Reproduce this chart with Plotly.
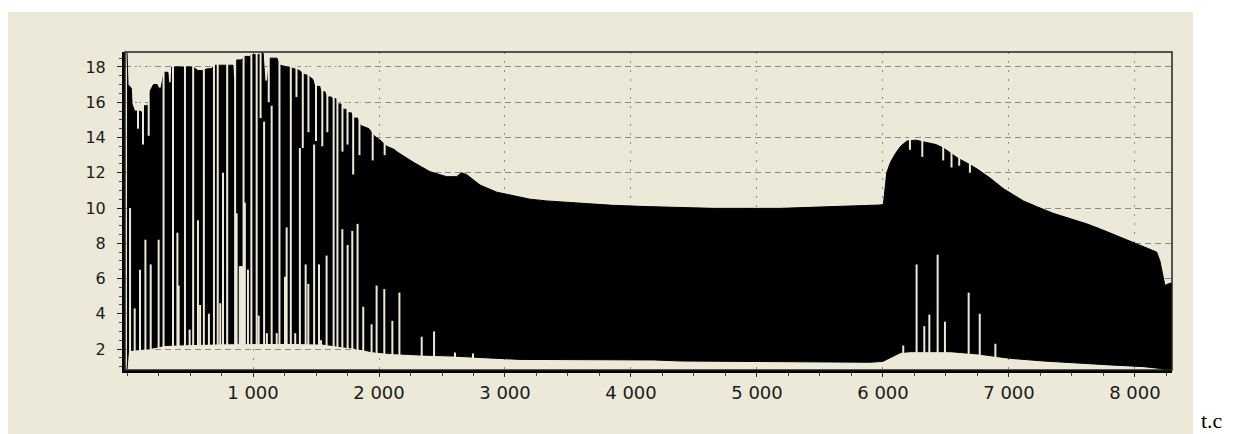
import plotly.graph_objects as go

# ---------------- data ----------------
# upper envelope of the black (oscillation maxima)
upper_x = [0, 8, 34, 40, 60, 100, 127, 135, 167, 180, 210, 240, 250, 270, 293, 325, 330, 350,
           355, 445, 484, 524, 563, 603, 638, 667, 696, 775, 802, 841, 845, 866, 870, 907, 933,
           973, 987, 1050, 1060, 1080, 1095, 1115, 1130, 1190, 1215, 1280, 1330, 1370, 1400,
           1440, 1475, 1490, 1530, 1540, 1570, 1590, 1620, 1635, 1660, 1675, 1700, 1715, 1740,
           1755, 1780, 1800, 1830, 1850, 1880, 1920, 1960, 2008, 2061, 2127, 2140, 2272, 2405,
           2537, 2616, 2655, 2695, 2802, 2934, 3066, 3198, 3331, 3595, 3860, 4127, 4389, 4653,
           5183, 5447, 5844, 5976, 6003, 6016, 6030, 6060, 6100, 6140, 6190, 6260, 6330, 6420,
           6480, 6540, 6600, 6680, 6750, 6850, 6955, 7035, 7115, 7220, 7350,
           7484, 7617, 7749, 7880, 8013, 8119, 8172, 8198, 8225, 8238, 8265, 8294]
upper_y = [18.8, 17.0, 16.8, 15.9, 15.5, 15.5, 15.4, 15.8, 15.8, 16.6, 17.0, 17.0, 16.8, 16.8,
           17.7, 17.7, 17.1, 17.1, 18.0, 18.0, 18.0, 18.0, 17.8, 17.8, 17.9, 17.9, 18.1, 18.1,
           18.1, 18.1, 17.4, 17.4, 18.4, 18.4, 18.6, 18.6, 18.7, 18.7, 18.8, 18.8, 17.2, 17.2,
           18.5, 18.5, 18.1, 18.0, 17.9, 17.8, 17.6, 17.5, 17.3, 16.9, 16.9, 16.6, 16.6, 16.3,
           16.3, 16.2, 16.2, 15.9, 15.9, 15.6, 15.6, 15.4, 15.4, 15.1, 15.1, 14.7, 14.6, 14.5,
           14.1, 13.86, 13.5, 13.3, 13.2, 12.6, 12.06, 11.78, 11.78, 12.0, 11.9, 11.3, 10.9,
           10.68, 10.5, 10.4, 10.26, 10.15, 10.08, 10.04, 9.98, 9.98, 10.04, 10.1, 10.17, 10.2,
           11.0, 12.0, 12.6, 13.1, 13.5, 13.8, 13.85, 13.75, 13.6,
           13.4, 13.1, 12.8, 12.5, 12.2, 11.7, 11.1, 10.75, 10.4, 10.08, 9.7, 9.4, 9.1, 8.74,
           8.36, 8.0, 7.7, 7.5, 7.0, 6.1, 5.6, 5.7, 5.75]

# lower envelope of the black (oscillation minima)
lower_x = [0, 12, 100, 200, 300, 500, 800, 1000, 1300, 1550, 1700, 1810, 1940, 2075, 2170,
           2325, 2590, 2850, 3120, 3380, 4180, 4400, 4970, 5500, 5900, 6000, 6060, 6140, 6217,
           6535, 6750, 7010, 7275, 7540, 7800, 8070, 8200, 8240, 8294]
lower_y = [0.85, 1.9, 1.95, 2.05, 2.2, 2.25, 2.3, 2.32, 2.32, 2.28, 2.13, 2.04, 1.85, 1.75,
           1.72, 1.66, 1.6, 1.5, 1.41, 1.38, 1.38, 1.32, 1.28, 1.28, 1.25, 1.3, 1.5, 1.8, 1.85,
           1.85, 1.72, 1.47, 1.32, 1.19, 1.1, 1.0, 0.9, 0.81, 0.81]

# light gaps in the oscillation (x, bottom, top)
gap_x = [290, 365, 460, 525, 610, 690, 720, 795, 858, 925, 987, 1029, 1210, 1300, 1640, 1670,
         87, 127, 172, 1060, 1125, 1345, 1395, 1440, 1500, 1550, 1590, 1710, 1750, 1795, 1845,
         1950, 2045,
         24, 61, 103, 146, 188, 251, 400, 410, 497, 563, 580, 650, 740, 762, 870, 895, 905, 915,
         935, 960, 1045, 1088, 1110, 1148, 1188, 1254, 1267, 1335, 1372, 1418, 1439, 1485, 1524,
         1540, 1584, 1709, 1751, 1788, 1830, 1875, 1941, 1981, 2042, 2106, 2162, 2339, 2437,
         2603, 2746,
         6161, 6267, 6328, 6368, 6434, 6492, 6680, 6768, 6892,
         6214, 6312, 6478, 6544, 6605, 6690]
gap_lo = [2.1, 2.1, 2.15, 2.15, 2.15, 2.15, 2.2, 2.2, 2.2, 2.2, 2.2, 2.2, 2.2, 2.2, 2.1, 2.1,
          14.5, 13.6, 14.1, 15.1, 16.0, 16.3, 13.4, 14.3, 13.8, 13.5, 14.3, 13.2, 13.6, 11.9,
          13.0, 12.7, 13.0,
          1.8, 1.85, 1.9, 1.9, 1.95, 2.0, 2.1, 2.1, 2.15, 2.15, 2.15, 2.15, 2.2, 2.2, 2.2, 2.2,
          2.2, 2.2, 2.2, 2.2, 2.2, 2.2, 2.2, 2.2, 2.2, 2.2, 2.2, 2.2, 2.2, 2.2, 2.2, 2.2, 2.2,
          2.2, 2.15, 2.05, 2.0, 1.95, 1.9, 1.85, 1.75, 1.7, 1.65, 1.65, 1.62, 1.56, 1.53, 1.45,
          1.42,
          1.7, 1.75, 1.75, 1.75, 1.75, 1.75, 1.65, 1.6, 1.5,
          13.3, 12.9, 12.7, 12.3, 12.4, 12.0]
gap_hi = [19.0] * 16 + [19.0] * 17 + [
          10.0, 4.3, 6.5, 8.2, 6.8, 8.2, 8.6, 5.6, 3.1, 9.3, 4.5, 4.0, 4.6, 12.0, 9.7, 6.7, 6.7,
          6.7, 10.3, 6.5, 3.9, 14.9, 2.9, 15.8, 2.9, 6.1, 8.9, 2.9, 13.4, 6.8, 5.7, 13.6, 6.8,
          2.5, 7.3, 8.8, 7.9, 8.7, 9.1, 4.4, 3.4, 5.6, 5.4, 3.6, 5.2, 2.7, 3.0, 1.8, 1.75,
          2.2, 6.8, 3.3, 3.95, 7.35, 3.55, 5.2, 4.0, 2.3] + [19.0] * 6

x_tick_vals = [1000, 2000, 3000, 4000, 5000, 6000, 7000, 8000]
x_tick_text = ["1 000", "2 000", "3 000", "4 000", "5 000", "6 000", "7 000", "8 000"]
y_tick_vals = [2, 4, 6, 8, 10, 12, 14, 16, 18]
y_tick_text = ["2", "4", "6", "8", "10", "12", "14", "16", "18"]

# ---------------- figure ----------------
PANEL = "#ECE9D8"
OFF = 8                      # page body margin of the html page
W, H = 1234 - OFF, 434 - OFF
L, R, T, B = 125 - OFF, 62, 52 - OFF, 64
pw, ph = W - L - R, H - T - B


def px2paper_x(px):          # page pixel -> paper coordinate
    return (px - OFF - L) / pw


def py2paper_y(py):
    return (H - B - (py - OFF)) / ph


fig = go.Figure()

poly_x = upper_x + lower_x[::-1]
poly_y = upper_y + lower_y[::-1]
fig.add_trace(go.Scatter(x=poly_x, y=poly_y, mode="lines", fill="toself",
                         fillcolor="black", line=dict(color="black", width=1),
                         hoverinfo="skip", showlegend=False))

sx, sy = [], []
for xv, lo, hi in zip(gap_x, gap_lo, gap_hi):
    sx += [xv, xv, None]
    sy += [lo, hi, None]
fig.add_trace(go.Scatter(x=sx, y=sy, mode="lines",
                         line=dict(color=PANEL, width=2),
                         hoverinfo="skip", showlegend=False))

fig.update_xaxes(range=[-16, 8294], tickmode="array", tickvals=x_tick_vals,
                 ticktext=x_tick_text, ticks="outside", ticklen=4, tickwidth=1,
                 tickcolor="#222", tickfont=dict(family="DejaVu Sans", size=18, color="#1a1a1a"),
                 showgrid=True, gridcolor="#8a8a8a", gridwidth=1, griddash="2px,7px",
                 showline=True, linecolor="black", linewidth=3, zeroline=False,
                 minor=dict(tickmode="linear", tick0=0, dtick=250, ticks="outside",
                            ticklen=3, tickcolor="#444", showgrid=False))
fig.update_yaxes(range=[0.81, 18.85], tickmode="array", tickvals=y_tick_vals,
                 ticktext=y_tick_text, ticks="outside", ticklen=5, tickwidth=1,
                 tickcolor="#222", tickfont=dict(family="DejaVu Sans", size=16, color="#1a1a1a"),
                 showgrid=True, gridcolor="#8a8a8a", gridwidth=1, griddash="6px,4px",
                 showline=True, linecolor="black", linewidth=3, zeroline=False,
                 ticklabelstandoff=8,
                 minor=dict(tickmode="linear", tick0=0, dtick=0.5, ticks="outside",
                            ticklen=3, tickcolor="#444", showgrid=False))

fig.add_shape(type="rect", xref="paper", yref="paper",
              x0=px2paper_x(8), x1=px2paper_x(1193), y0=py2paper_y(434), y1=py2paper_y(12),
              fillcolor=PANEL, line=dict(width=0), layer="below")
fig.add_shape(type="rect", xref="paper", yref="paper", x0=0, x1=1, y0=0, y1=1,
              line=dict(color="#222", width=1.5), fillcolor="rgba(0,0,0,0)", layer="above")

fig.add_annotation(text="t.c", xref="paper", yref="paper",
                   x=px2paper_x(1199), y=py2paper_y(420), xanchor="left", yanchor="middle",
                   showarrow=False, font=dict(family="Liberation Serif", size=22, color="black"))

fig.update_layout(width=W, height=H, margin=dict(l=L, r=R, t=T, b=B, autoexpand=False),
                  paper_bgcolor="white", plot_bgcolor=PANEL, showlegend=False)

fig.write_html("out.html")
